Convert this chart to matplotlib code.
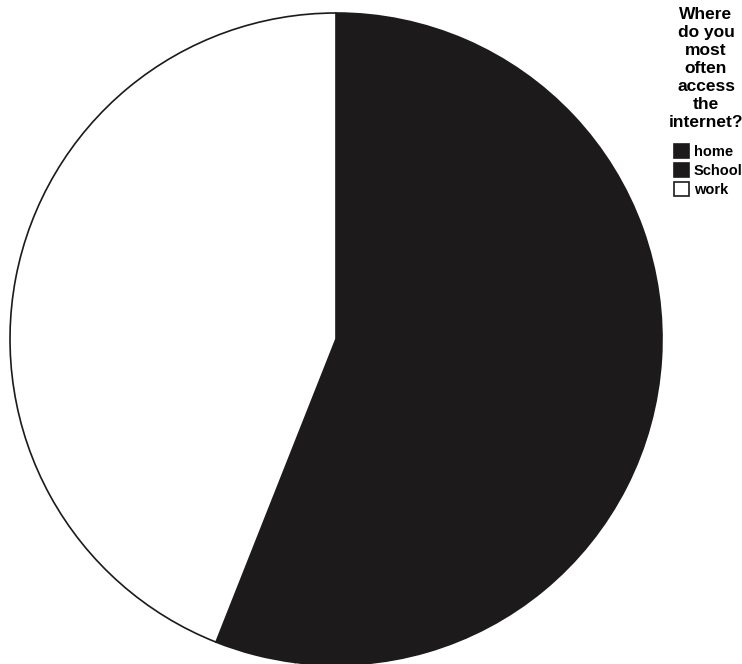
import matplotlib.pyplot as plt

# where do you most often access the internet?
labels = ['home', 'School', 'work']
counts = [13, 1, 11]
colors = ['#1c1a1a', '#1c1a1a', 'white']

fig = plt.figure(figsize=(7.42, 6.64), dpi=100)
plt.rcParams['font.family'] = 'Liberation Sans'

ax = fig.add_axes([10 / 742, -1 / 664, 652 / 742, 652 / 664])
wedges, _ = ax.pie(counts, colors=colors, startangle=90, counterclock=False,
                   wedgeprops=dict(edgecolor='#1c1a1a', linewidth=1.2))
for w in wedges:
    w.set_clip_on(False)
ax.set_xlim(-1, 1)
ax.set_ylim(-1, 1)
ax.set_aspect('equal')
ax.axis('off')

fig.text(706 / 742, 1 - 7 / 664, 'Where\ndo you\nmost\noften\naccess\nthe\ninternet?',
         ha='center', va='top', multialignment='center', fontsize=12.5,
         fontweight='bold', linespacing=1.25)

fig.legend(wedges, labels, loc='upper left', bbox_to_anchor=(674 / 742, 1 - 144 / 664),
           frameon=False, borderpad=0, borderaxespad=0, handlelength=1.05,
           handleheight=1.05, handletextpad=0.3, labelspacing=0.3,
           prop=dict(size=10.5, weight='bold'))

fig.savefig('out.png', dpi=100)
